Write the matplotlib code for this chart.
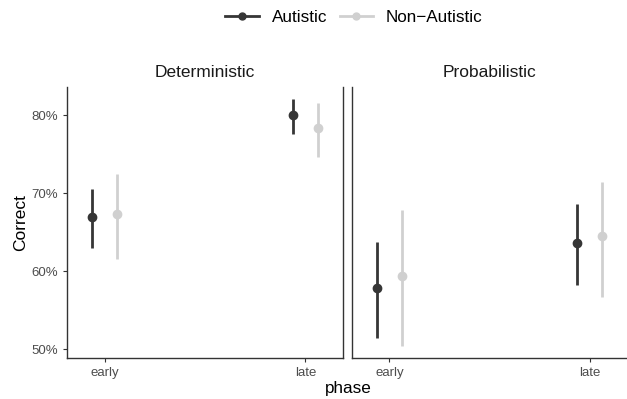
import numpy as np
import matplotlib
matplotlib.use('Agg')
import matplotlib.pyplot as plt
from matplotlib.ticker import PercentFormatter
from matplotlib.lines import Line2D

plt.rcParams['font.family'] = ['Liberation Sans', 'DejaVu Sans']

# data (percent correct, with interval ends)
phases = ['early', 'late']
panels = ['Deterministic', 'Probabilistic']
groups = ['Autistic', 'Non\u2212Autistic']

det_aut_mean = [66.9, 80.0]
det_aut_low = [63.0, 77.6]
det_aut_high = [70.6, 82.0]
det_non_mean = [67.3, 78.3]
det_non_low = [61.6, 74.7]
det_non_high = [72.5, 81.5]

prob_aut_mean = [57.8, 63.6]
prob_aut_low = [51.5, 58.2]
prob_aut_high = [63.8, 68.6]
prob_non_mean = [59.4, 64.5]
prob_non_low = [50.5, 56.7]
prob_non_high = [67.8, 71.4]

colors = ['#363636', '#d0d0d0']
axis_col = '#333333'
tick_col = '#4d4d4d'

fig = plt.figure(figsize=(6.27, 3.99), dpi=100)
ax1 = fig.add_axes([67 / 627, 1 - 358 / 399, 276 / 627, 271 / 399])
ax2 = fig.add_axes([352 / 627, 1 - 358 / 399, 275 / 627, 271 / 399])

panel_data = [
    [(det_aut_mean, det_aut_low, det_aut_high), (det_non_mean, det_non_low, det_non_high)],
    [(prob_aut_mean, prob_aut_low, prob_aut_high), (prob_non_mean, prob_non_low, prob_non_high)],
]

x = np.arange(len(phases))
offsets = [-0.063, 0.063]

for ax, title, series in zip([ax1, ax2], panels, panel_data):
    for (mean, low, high), off, col in zip(series, offsets, colors):
        mean = np.array(mean)
        yerr = [mean - np.array(low), np.array(high) - mean]
        ax.errorbar(x + off, mean, yerr=yerr, fmt='o', color=col, ms=6,
                    elinewidth=2, capsize=0, zorder=3)
    ax.set_xlim(-0.187, 1.187)
    ax.set_ylim(48.9, 83.6)
    ax.set_xticks(x)
    ax.set_xticklabels(phases)
    ax.set_yticks([50, 60, 70, 80])
    ax.yaxis.set_major_formatter(PercentFormatter(decimals=0))
    ax.tick_params(axis='both', colors=axis_col, labelcolor=tick_col,
                   labelsize=9.5, length=3, width=0.8)
    ax.spines['top'].set_visible(False)
    for s in ['left', 'bottom', 'right']:
        ax.spines[s].set_color(axis_col)
        ax.spines[s].set_linewidth(1.0)
    ax.text(0.5, 1.055, title, transform=ax.transAxes, ha='center', va='center',
            fontsize=12.5, color='#1a1a1a')

ax2.spines['right'].set_visible(False)
ax2.tick_params(axis='y', left=False, labelleft=False)

ax1.set_ylabel('Correct', fontsize=12.5, color='black', labelpad=2)
fig.text(348 / 627, 1 - 388 / 399, 'phase', ha='center', va='center', fontsize=12.3)

handles = [Line2D([0], [0], color=c, lw=2, marker='o', ms=5) for c in colors]
fig.legend(handles, groups, loc='center', bbox_to_anchor=(354 / 627, 1 - 17 / 399),
           ncol=2, frameon=False, fontsize=12.3, handlelength=1.95,
           handletextpad=0.75, columnspacing=0.75)

fig.savefig('out.png', dpi=100)
